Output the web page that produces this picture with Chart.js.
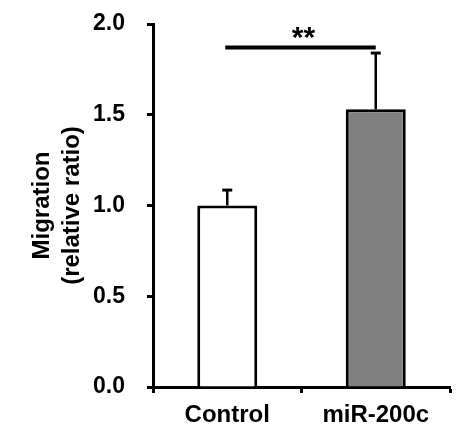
<!DOCTYPE html>
<html>
<head>
<meta charset="utf-8">
<script src="https://cdn.jsdelivr.net/npm/chart.js@4/dist/chart.umd.min.js"></script>
<style>
  html, body { margin: 0; padding: 0; background: #fff; }
  #wrap { width: 472px; height: 443px; position: relative; }
</style>
</head>
<body>
<div id="wrap"><canvas id="migrationChart"></canvas></div>
<script>
// values
const groups = ['Control', 'miR-200c'];
const means = [1.0, 1.53];
const errors = [0.085, 0.31];       // upper error bar only
const barFills = ['#ffffff', '#808080'];
const yTicks = [0, 0.5, 1.0, 1.5, 2.0];
const sigPair = [0, 1];             // groups joined by the significance line
const sigLevel = 1.87;
const sigMark = '**';

const FONT = "'Liberation Sans', Arial, Helvetica, sans-serif";

// draws the one-sided error bars and the significance line
const annotations = {
    id: 'annotations',
    afterDatasetsDraw(chart) {
        const ctx = chart.ctx;
        const x = chart.scales.x;
        const y = chart.scales.y;
        ctx.save();
        ctx.strokeStyle = '#000';
        means.forEach((m, i) => {
            const cx = x.getPixelForValue(i);
            const top = y.getPixelForValue(m + errors[i]);
            ctx.lineWidth = 2.5;
            ctx.beginPath();
            ctx.moveTo(cx, y.getPixelForValue(m));
            ctx.lineTo(cx, top);
            ctx.stroke();
            ctx.lineWidth = 3;
            ctx.beginPath();
            ctx.moveTo(cx - 5, top);
            ctx.lineTo(cx + 5, top);
            ctx.stroke();
        });

        const x1 = x.getPixelForValue(sigPair[0]) - 2;
        const x2 = x.getPixelForValue(sigPair[1]);
        const sy = y.getPixelForValue(sigLevel);
        ctx.lineWidth = 4;
        ctx.beginPath();
        ctx.moveTo(x1, sy);
        ctx.lineTo(x2, sy);
        ctx.stroke();

        ctx.fillStyle = '#000';
        ctx.font = 'bold 30px ' + FONT;
        ctx.textAlign = 'center';
        ctx.textBaseline = 'alphabetic';
        ctx.fillText(sigMark, (x1 + x2) / 2 + 3, sy - 1);
        ctx.restore();
    }
};

new Chart(document.getElementById('migrationChart'), {
    type: 'bar',
    data: {
        labels: groups,
        datasets: [{
            data: means,
            backgroundColor: barFills,
            borderColor: '#000',
            borderWidth: 3,
            borderSkipped: 'bottom',
            categoryPercentage: 1.0,
            barPercentage: 0.404
        }]
    },
    options: {
        responsive: true,
        maintainAspectRatio: false,
        animation: false,
        layout: { padding: { top: 24, right: 22, left: 0, bottom: 0 } },
        plugins: {
            legend: { display: false },
            tooltip: { enabled: false }
        },
        scales: {
            x: {
                grid: {
                    offset: true,
                    drawOnChartArea: false,
                    drawTicks: true,
                    tickLength: 6,
                    tickColor: '#000',
                    tickWidth: 3
                },
                border: { display: true, color: '#000', width: 3 },
                ticks: {
                    color: '#000',
                    padding: 8,
                    font: { family: FONT, size: 24, weight: 'bold' }
                },
                afterFit(scale) { scale.height = 56; }
            },
            y: {
                min: 0,
                max: 2,
                afterBuildTicks(scale) {
                    scale.ticks = yTicks.map(v => ({ value: v }));
                },
                grid: {
                    drawOnChartArea: false,
                    drawTicks: true,
                    tickLength: 6,
                    tickColor: '#000',
                    tickWidth: 3
                },
                border: { display: true, color: '#000', width: 3 },
                ticks: {
                    color: '#000',
                    padding: 22,
                    font: { family: FONT, size: 23, weight: 'bold' },
                    callback: v => Number(v).toFixed(1)
                },
                title: {
                    display: true,
                    text: ['Migration', '(relative ratio)'],
                    color: '#000',
                    padding: { top: 27, bottom: 0 },
                    font: { family: FONT, size: 24, weight: 'bold', lineHeight: 1.25 }
                },
                afterFit(scale) {
                    scale.width = 153;
                    // tick padding would otherwise push the plot top down
                    scale.paddingTop = 0;
                    scale.paddingBottom = 0;
                }
            }
        }
    },
    plugins: [annotations]
});
</script>
</body>
</html>
